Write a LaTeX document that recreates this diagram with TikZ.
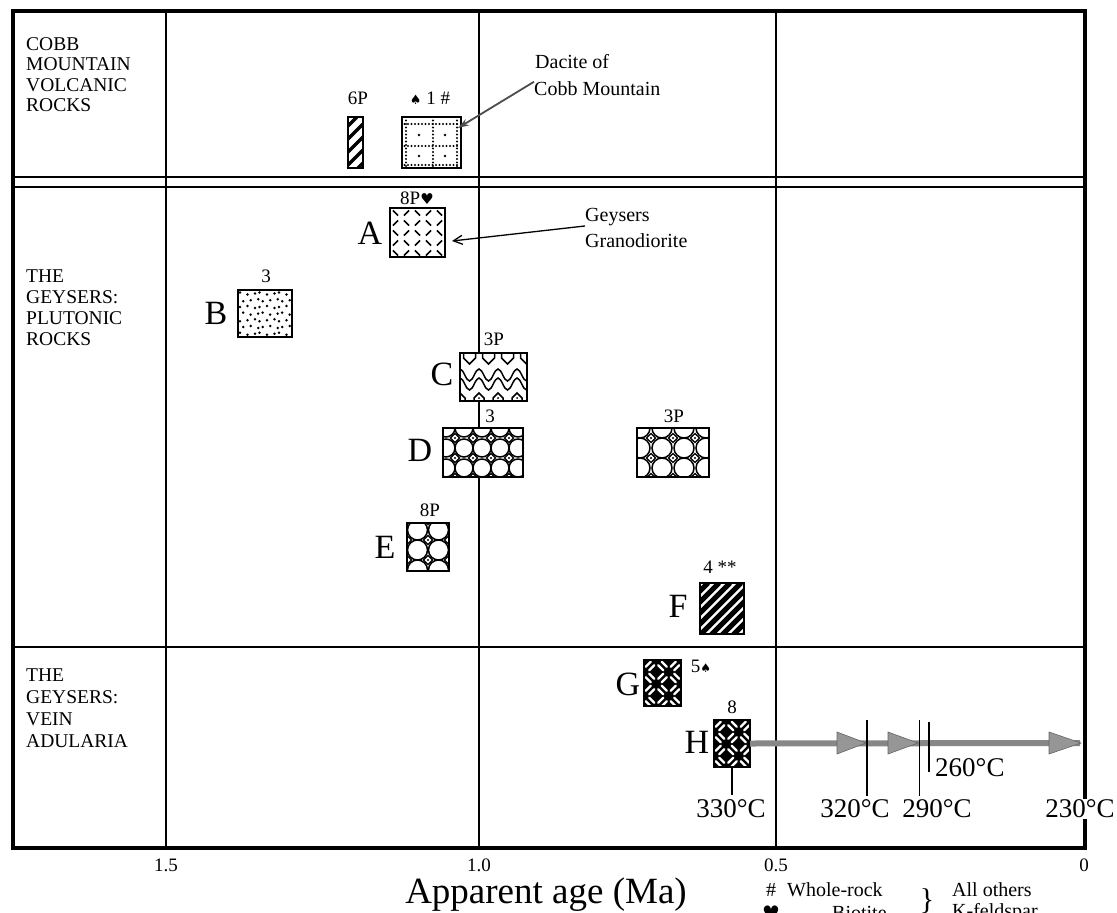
\documentclass[tikz,border=0pt]{standalone}
\usepackage{fontspec}
\setmainfont{Liberation Serif}
\newfontfamily\symfont{DejaVu Sans}
\usetikzlibrary{arrows.meta}
\definecolor{shaftgray}{RGB}{135,135,135}
\definecolor{headgray}{RGB}{150,150,150}
\newcommand\fsz[2]{\fontsize{#1}{#2}\selectfont}

\newcommand\rockbox[6]{%
  \node[inner sep=0pt, outer sep=0pt, minimum width={(#4)-(#2)}, minimum height={(#5)-(#3)}, fill=white, anchor=north west] (#1) at (#2,#3) {};
  \begin{scope}
    \clip (#2,#3) rectangle (#4,#5);
    \begin{scope}[shift={(#2,#3)}]
      #6
    \end{scope}
  \end{scope}
  \draw[boxline] (#1.north west) rectangle (#1.south east);
}

\newcommand\circpat[6]{%
  \foreach \i in {-1,...,#5}{\foreach \j in {-1,...,#6}{%
    \draw[line width=1.5pt] ({#3+(\i+0.5)*#1},{#4+(\j+0.5)*#2}) circle ({0.5*min(#1,#2)*1pt});
  }}%
  \foreach \i in {-1,...,#5}{\foreach \j in {-1,...,#6}{%
    \filldraw[fill=white, line width=1.2pt] ({#3+\i*#1},{#4+\j*#2-4.5}) -- ++(4.5,4.5) -- ++(-4.5,4.5) -- ++(-4.5,-4.5) -- cycle;
    \fill ({#3+\i*#1},{#4+\j*#2}) circle (1.2pt);
  }}%
}

\newcommand\weavepat{%
  \fill (0,0) rectangle (40,50);
  \foreach \i in {0,...,2}{\foreach \j in {0,...,3}{%
    \pgfmathsetmacro\ang{mod(\i+\j,2)==0 ? 45 : -45}%
    \begin{scope}[shift={(\i*12.5+6,\j*12+6)}, rotate=\ang]
      \draw[white, line width=2.3pt, line cap=round] (-3.6,-2.4) -- (3.6,-2.4) (-3.6,2.4) -- (3.6,2.4);
    \end{scope}
  }}%
}

\begin{document}
\begin{tikzpicture}[x=1pt,y=-1pt,
  frame/.style={line width=4pt},
  gridl/.style={line width=1.7pt},
  boxline/.style={line width=2.6pt},
  cat/.style={align=left, anchor=north west, inner sep=0pt},
  num/.style={font=\fsz{19}{21}, inner sep=0pt},
  letter/.style={font=\fsz{34}{36}, inner sep=0pt},
  temp/.style={font=\fsz{27}{29}, inner sep=1pt},
  callout/.style={font=\fsz{20}{22}, inner sep=0pt, anchor=west},
  callarrow/.style={line width=1.3pt, -{Straight Barb[length=9pt,width=9pt]}},
  dacarrow/.style={line width=1.8pt, draw=black!70, -{Stealth[length=11pt,width=7pt,fill=black!45]}},
  tickl/.style={line width=1.6pt},
  leg/.style={font=\fsz{20}{22}, inner sep=0pt},
  axlab/.style={font=\fsz{19}{21}, inner sep=0pt},
  shaft/.style={line width=6pt, draw=shaftgray},
  head/.style={fill=headgray, draw=black!60, line width=0.6pt},
]
\useasboundingbox (0,0) rectangle (1117,913);
\fill[white] (0,0) rectangle (1117,913);

% grid and frame
\draw[gridl] (166,11) -- (166,848);
\draw[gridl] (479,11) -- (479,848);
\draw[gridl] (776,11) -- (776,848);
\draw[gridl] (13,177) -- (1085,177);
\draw[gridl] (13,187) -- (1085,187);
\draw[gridl] (13,647) -- (1085,647);
\draw[frame] (13,11) rectangle (1085,848);

% category labels
\node[cat, font=\fsz{19.5}{20.5}] (catcobb) at (26,37) {COBB\\MOUNTAIN\\VOLCANIC\\ROCKS};
\node[cat, font=\fsz{19.5}{21}] (catplut) at (26,270) {THE\\GEYSERS:\\PLUTONIC\\ROCKS};
\node[cat, font=\fsz{19.5}{22}] (catvein) at (26,669) {THE\\GEYSERS:\\VEIN\\ADULARIA};

% boxes
\rockbox{b6P}{348}{117}{363}{168}{\foreach \k in {-60,-47,...,30} \draw[line width=3.5pt] (\k,56) -- (\k+56,0);}
\rockbox{bDac}{402}{117}{461}{168}{%
  \foreach \yy in {7,29,48} \foreach \xx in {2.5,6,...,58} \fill (\xx,\yy) circle (1.2pt);
  \foreach \xx in {4,31,55} \foreach \yy in {3.5,7,...,50} \fill (\xx,\yy) circle (1.2pt);
  \foreach \xx in {17,43} \foreach \yy in {18,39} \fill (\xx,\yy) circle (1.4pt);
}
\rockbox{A}{390}{208}{445}{257}{%
  \foreach \i in {0,...,4}{\foreach \j in {0,...,4}{%
    \pgfmathsetmacro\sg{mod(\i+\j,2)==0 ? 1 : -1}%
    \draw[line width=1.7pt] ({\i*11+5.5-2.6},{\j*10+5-2.6*\sg}) -- ({\i*11+5.5+2.6},{\j*10+5+2.6*\sg});
  }}%
}
\rockbox{B}{238}{290}{292}{337}{%
  \foreach \j in {0,...,6}{\foreach \i in {0,...,8}{%
    \pgfmathsetmacro\px{\i*6.5+3+mod(\j,2)*3.2+mod(\i*7+\j*3,3)-1}%
    \pgfmathsetmacro\py{\j*6.7+3.5+mod(\i*5+\j*11,3)-1}%
    \fill (\px,\py) circle (1.4pt);
  }}%
}
\rockbox{C}{460}{353}{527}{401}{%
  \foreach \xx in {9.5,28.5,47.5,66.5} \draw[line width=1.5pt] (\xx-6,0) -- (\xx-6,5) -- (\xx,11) -- (\xx+6,5) -- (\xx+6,0);
  \draw[line width=1.5pt] (0,16) cos ++(4.75,6) sin ++(4.75,6) cos ++(4.75,-6) sin ++(4.75,-6)
     cos ++(4.75,6) sin ++(4.75,6) cos ++(4.75,-6) sin ++(4.75,-6)
     cos ++(4.75,6) sin ++(4.75,6) cos ++(4.75,-6) sin ++(4.75,-6)
     cos ++(4.75,6) sin ++(4.75,6) cos ++(4.75,-6) sin ++(4.75,-6);
  \draw[line width=1.5pt] (0,25) cos ++(4.75,6) sin ++(4.75,6) cos ++(4.75,-6) sin ++(4.75,-6)
     cos ++(4.75,6) sin ++(4.75,6) cos ++(4.75,-6) sin ++(4.75,-6)
     cos ++(4.75,6) sin ++(4.75,6) cos ++(4.75,-6) sin ++(4.75,-6)
     cos ++(4.75,6) sin ++(4.75,6) cos ++(4.75,-6) sin ++(4.75,-6);
  \foreach \xx in {0,19,38,57} {\draw[line width=1.5pt] (\xx-5,49) -- (\xx-5,45) -- (\xx,40) -- (\xx+5,45) -- (\xx+5,49); \fill (\xx,45) circle (1pt);}
}
\rockbox{D}{443}{428}{523}{477}{\circpat{18}{20}{12}{10}{4}{2}}
\rockbox{Dr}{637}{428}{709}{477}{\circpat{22}{20}{14}{10}{3}{2}}
\rockbox{E}{407}{523}{449}{571}{\circpat{21}{20}{0}{17}{2}{2}}
\rockbox{F}{700}{583}{744}{634}{\foreach \k in {-55,-44,...,55} \draw[line width=5pt] (\k,52) -- (\k+52,0);}
\rockbox{G}{644}{660}{681}{706}{\weavepat}
\rockbox{H}{714}{720}{750}{767}{\weavepat}

% labels above boxes
\node[num] (l6P) at (358,98) {6P};
\node[num] (lDac) at (430,98) {{\symfont\fsz{13}{15}♠} 1 \#};
\node[num] (lA) at (417,198) {8P{\symfont\fsz{15}{17}♥}};
\node[num] (lB) at (266,276) {3};
\node[num] (lC) at (494,339) {3P};
\node[num] (lD) at (490,416) {3};
\node[num] (lDr) at (674,416) {3P};
\node[num] (lE) at (430,510) {8P};
\node[num] (lF) at (720,567) {4 **};
\node[num] (lG) at (701,666) {5{\symfont\fsz{12}{14}♠}};
\node[num] (lH) at (732,707) {8};

% letters
\node[letter] (tA) at (370,233) {A};
\node[letter] (tB) at (216,313) {B};
\node[letter] (tC) at (442,374) {C};
\node[letter] (tD) at (420,450) {D};
\node[letter] (tE) at (385,547) {E};
\node[letter] (tF) at (678,606) {F};
\node[letter] (tG) at (628,684) {G};
\node[letter] (tH) at (697,742) {H};

% callouts
\node[callout] (dac1) at (535,62) {Dacite of};
\node[callout] (dac2) at (534,89) {Cobb Mountain};
\coordinate (dactip) at (458,128);
\draw[dacarrow] (dac2.north west) -- (dactip);
\node[callout] (gey1) at (585,217) {Geysers};
\node[callout] (gey2) at (585,241) {Granodiorite};
\coordinate (Atip) at (452,241);
\draw[callarrow] (gey1.south west) -- (Atip);

% cooling arrow
\coordinate (Hend) at (1080,743);
\draw[shaft] (H.east) -- (Hend);
\fill[head] (837,732) -- (866,743) -- (837,754) -- cycle;
\fill[head] (888,732) -- (918,743) -- (888,754) -- cycle;
\fill[head] (1049,732) -- (1081,743) -- (1049,754) -- cycle;

% temperature ticks
\coordinate (Htick) at (732,795);
\draw[tickl] (H.south) -- (Htick);
\coordinate (t320a) at (867,720); \coordinate (t320b) at (867,796);
\draw[tickl] (t320a) -- (t320b);
\coordinate (t290a) at (919.5,720); \coordinate (t290b) at (919.5,796);
\draw[tickl] (t290a) -- (t290b);
\coordinate (t260a) at (929,722); \coordinate (t260b) at (929,772);
\draw[tickl] (t260a) -- (t260b);

\node[temp] (T330) at (731,809) {330°C};
\node[temp] (T320) at (855,809) {320°C};
\node[temp] (T290) at (937,809) {290°C};
\node[temp, anchor=west] (T260) at (934,768) {260°C};
\node[temp, fill=white] (T230) at (1080,809) {230°C};

% axis labels
\node[axlab] (x15) at (166,865) {1.5};
\node[axlab] (x10) at (479,865) {1.0};
\node[axlab] (x05) at (776,865) {0.5};
\node[axlab] (x00) at (1084,865) {0};
\node[font=\fsz{37}{40}, inner sep=0pt] (xtitle) at (546,895) {Apparent age (Ma)};

% legend
\node[leg] (lghash) at (771,890) {\#};
\node[leg, anchor=west] (lgwr) at (787,890) {Whole-rock};
\node[leg] (lgheart) at (771,913) {\symfont ♥};
\node[leg, anchor=west] (lgbio) at (832,913) {Biotite};
\node[font=\fsz{30}{32}, inner sep=0pt] (lgbrace) at (927,901) {\}};
\node[leg, anchor=west] (lgall) at (952,890) {All others};
\node[leg, anchor=west] (lgkf) at (952,913) {K-feldspar};
\end{tikzpicture}
\end{document}
